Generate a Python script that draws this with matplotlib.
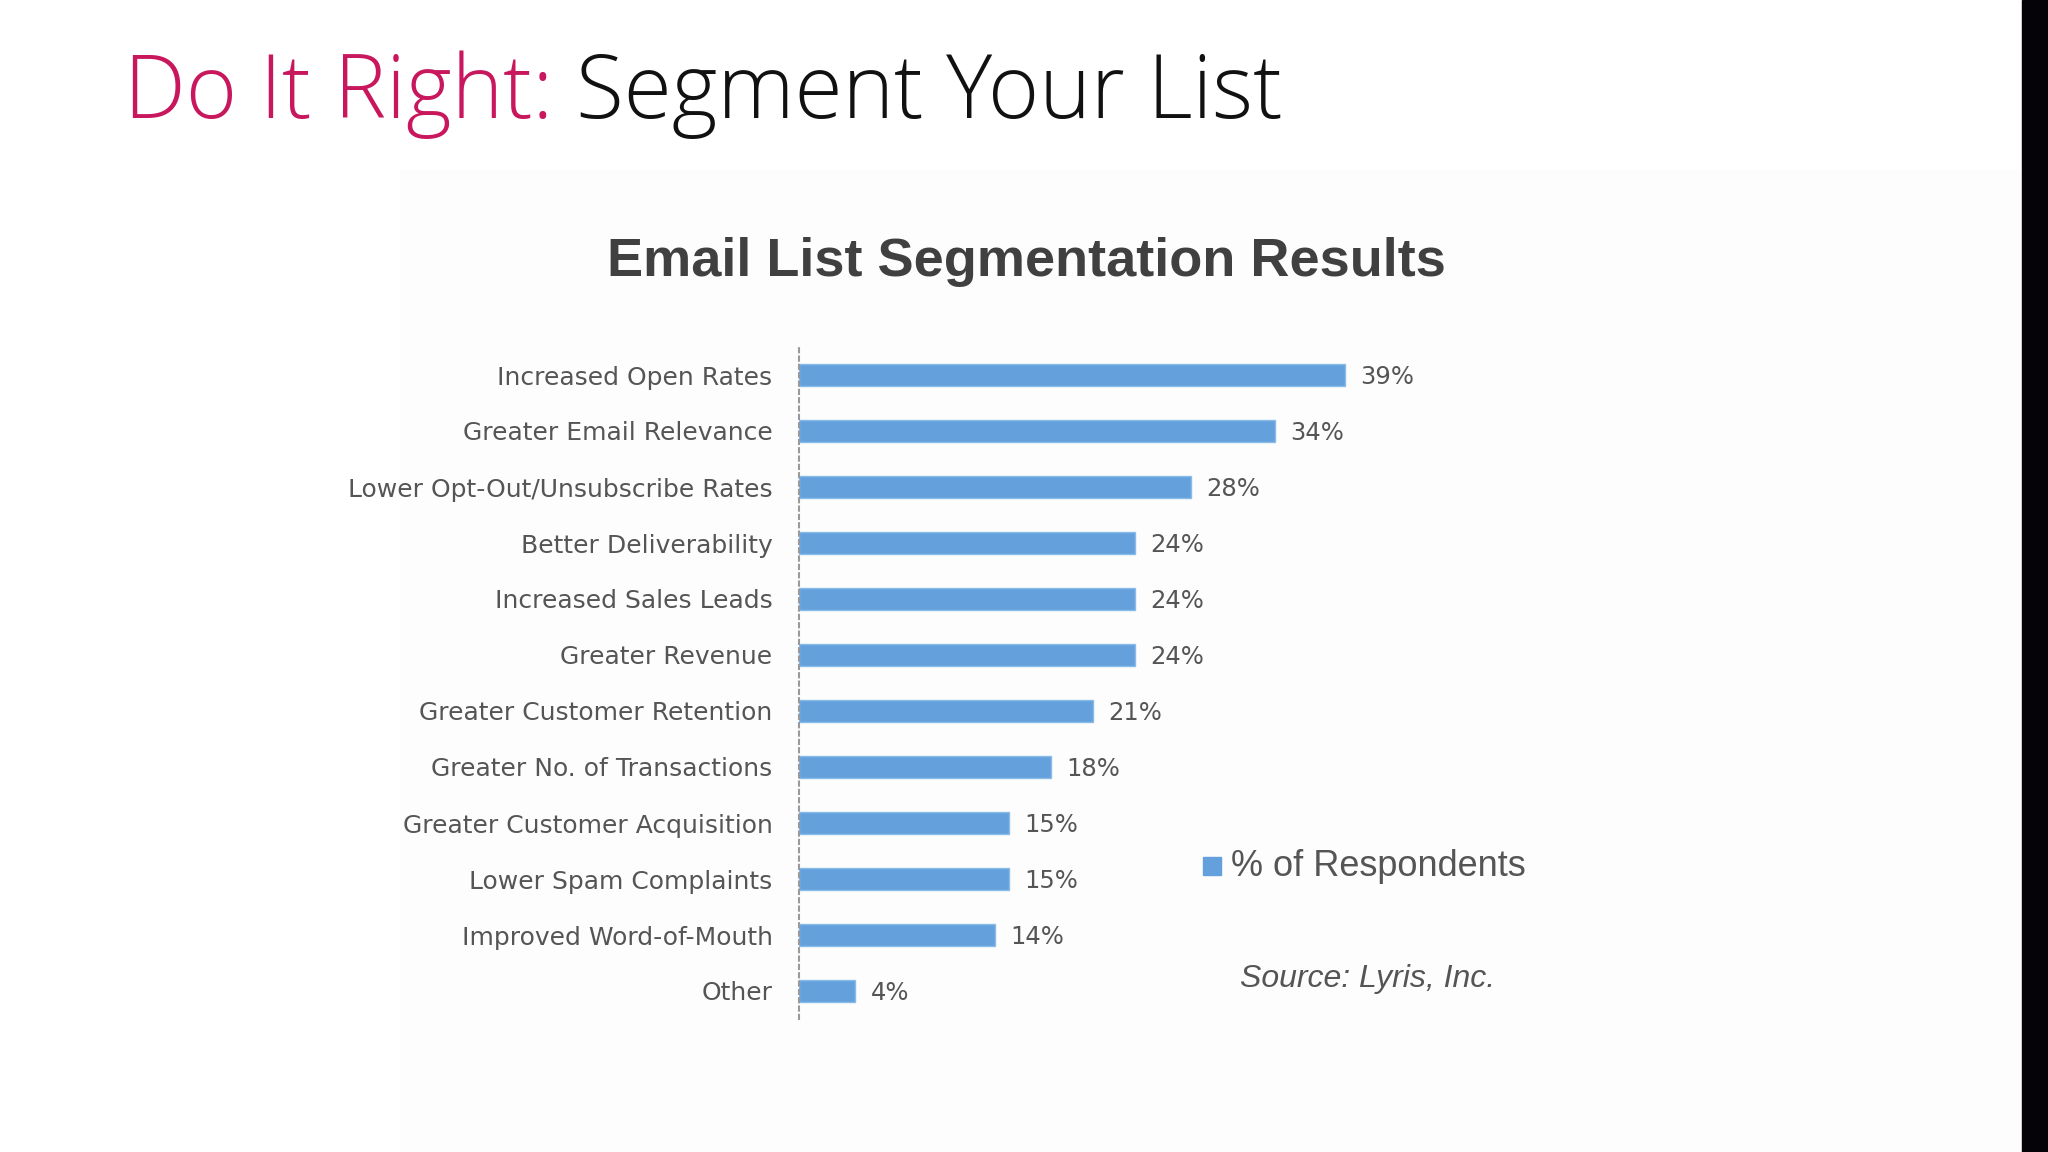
import numpy as np
import matplotlib.pyplot as plt
from matplotlib.patches import Rectangle

categories = ["Increased Open Rates", "Greater Email Relevance",
              "Lower Opt-Out/Unsubscribe Rates", "Better Deliverability",
              "Increased Sales Leads", "Greater Revenue",
              "Greater Customer Retention", "Greater No. of Transactions",
              "Greater Customer Acquisition", "Lower Spam Complaints",
              "Improved Word-of-Mouth", "Other"]
values = [39, 34, 28, 24, 24, 24, 21, 18, 15, 15, 14, 4]
value_labels = [f"{v}%" for v in values]
series_name = "% of Respondents"

W, H = 2048, 1152
fig = plt.figure(figsize=(W / 100, H / 100), dpi=100)
fig.patch.set_facecolor("white")

def fx(px):
    return px / W

def fy(py):
    return 1 - py / H

# faint backdrop of the pasted chart image + black band on the right
fig.patches.append(Rectangle((fx(400), 0), fx(2022) - fx(400), fy(170),
                             transform=fig.transFigure, color="#fdfdfd", zorder=-2))
fig.patches.append(Rectangle((fx(2022), 0), fx(26), 1,
                             transform=fig.transFigure, color="#050307", zorder=-2))

# slide title
t1 = fig.text(fx(124), fy(95), "Do It Right: ", color="#c8175d", fontsize=63,
              family="Open Sans", fontweight="light", va="center", ha="left")
fig.canvas.draw()
bb = t1.get_window_extent()
fig.text(bb.x1 / W, fy(95), "Segment Your List", color="#111111", fontsize=63,
         family="Open Sans", fontweight="light", va="center", ha="left")

# chart title
fig.text(fx(1026), fy(262), "Email List Segmentation Results", color="#404040",
         fontsize=39, fontweight="bold", family="Liberation Sans",
         ha="center", va="center")

ax = fig.add_axes([fx(799), fy(1019), fx(630), (1019 - 347) / H])
ax.set_facecolor("none")
y = np.arange(len(categories))
ax.barh(y, values, height=0.38, color="#64a0dc", edgecolor="#8bbbe8", linewidth=1)
ax.set_xlim(0, 45)
ax.set_ylim(len(categories) - 0.5, -0.5)
ax.set_yticks(y)
ax.set_yticklabels(categories, fontsize=18, color="#555555", family="DejaVu Sans")
ax.tick_params(axis="y", length=0, pad=19)
ax.set_xticks([])
for s in ["top", "right", "bottom"]:
    ax.spines[s].set_visible(False)
ax.spines["left"].set_linestyle((0, (2, 2)))
ax.spines["left"].set_color("#9a9a9a")
ax.spines["left"].set_linewidth(1.5)

for yi, v, lab in zip(y, values, value_labels):
    ax.text(v + 1.1, yi + 0.04, lab, va="center", ha="left", fontsize=17.5,
            color="#555555", family="DejaVu Sans")

# legend
fig.patches.append(Rectangle((fx(1203), fy(875)), fx(18), 18 / H,
                             transform=fig.transFigure, color="#64a0dc"))
fig.text(fx(1231), fy(866), series_name, fontsize=26, color="#555555",
         family="Liberation Sans", ha="left", va="center")

fig.text(fx(1240), fy(979), "Source: Lyris, Inc.", fontsize=23, color="#555555",
         family="Liberation Sans", style="italic", ha="left", va="center")

fig.savefig("out.png", dpi=100)
